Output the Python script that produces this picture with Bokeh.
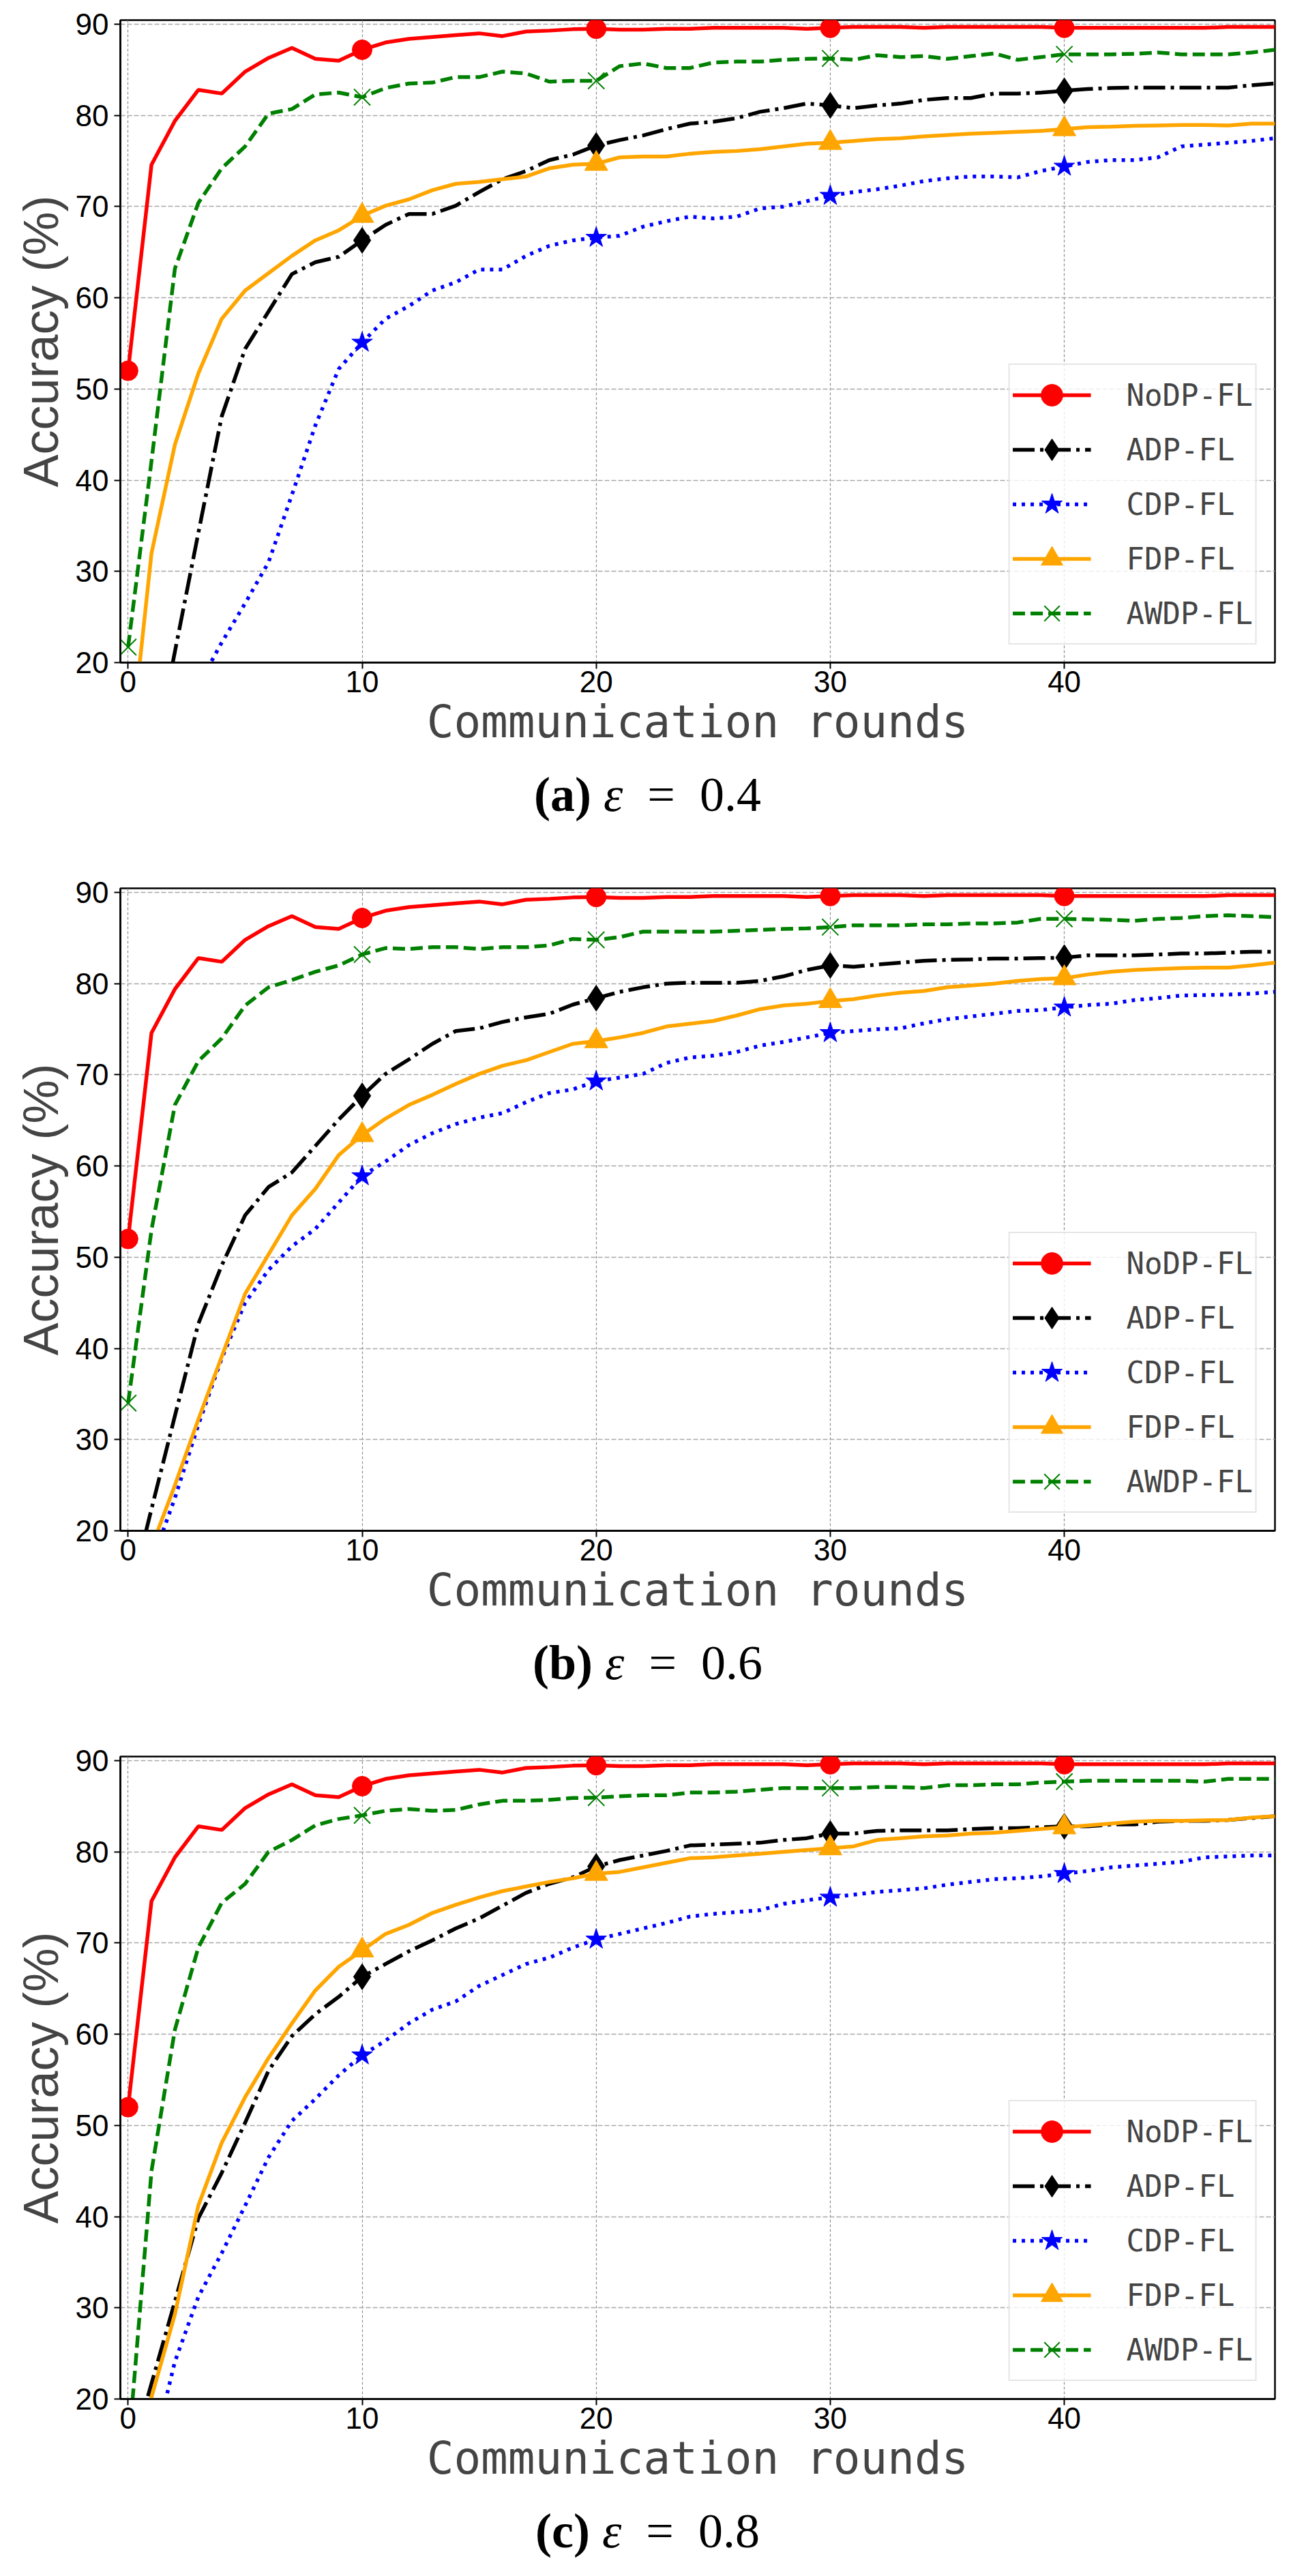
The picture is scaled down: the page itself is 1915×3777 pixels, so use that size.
from bokeh.plotting import figure
from bokeh.models import Legend, LegendItem, Div, FixedTicker
from bokeh.layouts import column
from bokeh.embed import file_html
from bokeh.resources import INLINE

# communication rounds 0..49
rounds = list(range(50))

# NoDP-FL is the same curve in all three panels
nodp = [52.0, 74.6, 79.4, 82.8, 82.4, 84.8, 86.3, 87.4, 86.2, 86.0,
        87.2, 88.0, 88.4, 88.6, 88.8, 89.0, 88.7, 89.2, 89.3, 89.45,
        89.5, 89.4, 89.4, 89.5, 89.5, 89.6, 89.6, 89.6, 89.6, 89.5,
        89.6, 89.7, 89.7, 89.7, 89.6, 89.7, 89.7, 89.7, 89.7, 89.7,
        89.6, 89.6, 89.6, 89.6, 89.6, 89.6, 89.6, 89.7, 89.7, 89.7]

# (a) eps = 0.4
adp_a = [5.0, 8.0, 21.2, 34.2, 47.0, 54.4, 58.5, 62.6, 63.9, 64.5,
         66.3, 68.0, 69.2, 69.2, 70.1, 71.6, 73.0, 73.9, 75.1, 75.7,
         76.7, 77.3, 77.8, 78.5, 79.1, 79.3, 79.7, 80.4, 80.8, 81.3,
         81.1, 80.8, 81.1, 81.3, 81.7, 81.9, 81.9, 82.4, 82.4, 82.5,
         82.7, 82.9, 83.0, 83.05, 83.05, 83.05, 83.05, 83.05, 83.3, 83.5]
cdp_a = [9.0, 11.0, 14.0, 17.5, 22.2, 26.5, 31.0, 38.4, 46.0, 52.2,
         55.1, 57.7, 59.1, 60.8, 61.7, 63.1, 63.1, 64.6, 65.7, 66.3,
         66.6, 66.8, 67.8, 68.4, 68.9, 68.7, 68.9, 69.8, 70.0, 70.6,
         71.2, 71.6, 71.9, 72.3, 72.8, 73.1, 73.3, 73.3, 73.2, 73.9,
         74.4, 74.9, 75.1, 75.1, 75.4, 76.6, 76.8, 77.0, 77.2, 77.5]
fdp_a = [8.0, 32.0, 43.9, 51.7, 57.7, 60.8, 62.7, 64.6, 66.3, 67.4,
         69.0, 70.1, 70.8, 71.8, 72.5, 72.7, 73.0, 73.3, 74.2, 74.6,
         74.7, 75.4, 75.5, 75.5, 75.8, 76.0, 76.1, 76.3, 76.6, 76.9,
         77.0, 77.2, 77.4, 77.5, 77.7, 77.85, 78.0, 78.1, 78.2, 78.3,
         78.5, 78.7, 78.76, 78.85, 78.9, 78.95, 78.95, 78.9, 79.1, 79.1]
awdp_a = [21.7, 42.1, 63.2, 70.4, 74.2, 76.6, 80.2, 80.7, 82.3, 82.5,
          82.0, 83.0, 83.5, 83.6, 84.2, 84.2, 84.8, 84.6, 83.7, 83.8,
          83.8, 85.4, 85.7, 85.2, 85.2, 85.8, 85.9, 85.9, 86.1, 86.2,
          86.25, 86.1, 86.6, 86.4, 86.5, 86.2, 86.5, 86.8, 86.1, 86.4,
          86.7, 86.7, 86.7, 86.75, 86.9, 86.7, 86.7, 86.7, 86.9, 87.2]

# (b) eps = 0.6
adp_b = [12.0, 22.4, 32.6, 42.7, 49.1, 54.6, 57.7, 59.3, 62.2, 65.1,
         67.7, 70.1, 71.7, 73.4, 74.8, 75.1, 75.8, 76.3, 76.7, 77.7,
         78.4, 79.1, 79.6, 80.0, 80.1, 80.1, 80.1, 80.3, 80.8, 81.5,
         82.0, 81.85, 82.1, 82.3, 82.5, 82.6, 82.65, 82.75, 82.75, 82.8,
         82.85, 83.1, 83.1, 83.1, 83.2, 83.3, 83.3, 83.4, 83.5, 83.5]
cdp_b = [10.0, 16.5, 23.6, 31.6, 38.9, 45.0, 48.6, 51.2, 53.1, 56.0,
         58.9, 60.5, 62.3, 63.6, 64.6, 65.3, 65.8, 67.0, 68.0, 68.4,
         69.3, 69.7, 70.1, 71.3, 71.9, 72.1, 72.5, 73.2, 73.6, 74.1,
         74.6, 74.8, 75.0, 75.1, 75.65, 76.1, 76.4, 76.7, 77.0, 77.1,
         77.4, 77.65, 77.8, 78.2, 78.4, 78.7, 78.75, 78.8, 78.9, 79.1]
fdp_b = [11.0, 18.2, 25.0, 32.2, 39.1, 46.0, 50.3, 54.6, 57.5, 61.2,
         63.4, 65.2, 66.7, 67.8, 69.0, 70.1, 71.0, 71.6, 72.5, 73.4,
         73.7, 74.1, 74.6, 75.3, 75.6, 75.9, 76.5, 77.2, 77.6, 77.8,
         78.1, 78.3, 78.7, 79.0, 79.2, 79.6, 79.8, 80.0, 80.3, 80.5,
         80.6, 81.0, 81.3, 81.5, 81.6, 81.7, 81.75, 81.75, 82.0, 82.3]
awdp_b = [34.0, 53.0, 66.7, 71.5, 74.0, 77.6, 79.6, 80.4, 81.3, 82.0,
          83.2, 83.9, 83.8, 84.0, 84.0, 83.8, 84.0, 84.0, 84.2, 84.9,
          84.8, 85.1, 85.7, 85.7, 85.7, 85.7, 85.8, 85.9, 86.0, 86.05,
          86.2, 86.4, 86.4, 86.4, 86.5, 86.5, 86.6, 86.6, 86.7, 87.1,
          87.1, 87.05, 87.0, 86.9, 87.1, 87.2, 87.4, 87.5, 87.4, 87.3]

# (c) eps = 0.8
adp_c = [12.7, 21.7, 30.7, 39.8, 44.8, 50.3, 56.0, 59.8, 62.2, 64.1,
         66.3, 67.7, 69.1, 70.3, 71.6, 72.7, 74.1, 75.5, 76.5, 77.2,
         78.4, 79.1, 79.6, 80.1, 80.7, 80.8, 80.9, 81.0, 81.3, 81.5,
         82.0, 82.0, 82.3, 82.35, 82.35, 82.35, 82.5, 82.6, 82.6, 82.7,
         82.8, 82.8, 83.0, 83.0, 83.3, 83.4, 83.4, 83.5, 83.7, 83.9]
cdp_c = [10.0, 13.5, 24.1, 31.2, 36.0, 41.2, 46.5, 50.5, 52.9, 55.5,
         57.7, 59.3, 61.2, 62.7, 63.6, 65.3, 66.5, 67.7, 68.4, 69.5,
         70.4, 71.0, 71.6, 72.2, 72.9, 73.2, 73.4, 73.6, 74.3, 74.7,
         75.0, 75.3, 75.6, 75.8, 76.0, 76.4, 76.7, 77.0, 77.1, 77.3,
         77.6, 77.9, 78.3, 78.5, 78.7, 78.9, 79.4, 79.5, 79.6, 79.6]
fdp_c = [10.0, 20.2, 29.3, 41.2, 48.1, 53.1, 57.4, 61.2, 64.8, 67.4,
         69.2, 71.0, 72.0, 73.3, 74.2, 75.0, 75.7, 76.2, 76.7, 77.1,
         77.6, 77.8, 78.3, 78.8, 79.3, 79.4, 79.6, 79.8, 80.0, 80.2,
         80.4, 80.6, 81.3, 81.5, 81.7, 81.8, 82.0, 82.1, 82.3, 82.5,
         82.7, 82.9, 83.1, 83.3, 83.4, 83.4, 83.45, 83.5, 83.75, 83.9]
awdp_c = [14.0, 45.0, 60.5, 69.5, 74.4, 76.5, 80.0, 81.3, 82.9, 83.6,
          84.0, 84.5, 84.7, 84.5, 84.6, 85.2, 85.6, 85.6, 85.7, 85.9,
          85.95, 86.1, 86.2, 86.2, 86.5, 86.5, 86.6, 86.8, 87.0, 87.0,
          87.0, 87.0, 87.1, 87.1, 87.0, 87.3, 87.3, 87.4, 87.4, 87.6,
          87.7, 87.8, 87.8, 87.8, 87.8, 87.8, 87.7, 88.0, 88.0, 88.0]

labels = ["NoDP-FL", "ADP-FL", "CDP-FL", "FDP-FL", "AWDP-FL"]
colors = ["#ff0000", "#000000", "#0000ff", "#ffa500", "#008000"]
dashes = ["solid", "32 8 5 8", "5 8", "solid", "18 8"]
markers = ["circle", "diamond", "star", "triangle", "x"]
msizes = [29, 38, 32, 34, 34]

x_ticks = [0, 10, 20, 30, 40]
y_ticks = [20, 30, 40, 50, 60, 70, 80, 90]

captions = [("(a)", "0.4"), ("(b)", "0.6"), ("(c)", "0.8")]


def make_panel(series, left):
    p = figure(width=1899, height=1131, x_range=(-0.33, 49.0), y_range=(20, 90.45),
               min_border_left=left, min_border_right=1899 - left - 1703,
               min_border_top=29, min_border_bottom=160,
               output_backend="svg", toolbar_location=None)
    p.background_fill_color = "white"
    p.outline_line_color = "black"
    p.outline_line_width = 2.5

    p.xaxis.ticker = FixedTicker(ticks=x_ticks)
    p.yaxis.ticker = FixedTicker(ticks=y_ticks)
    for ax in [p.xaxis, p.yaxis]:
        ax.axis_line_width = 2.5
        ax.major_tick_line_width = 2
        ax.major_tick_in = 0
        ax.major_tick_out = 9
        ax.minor_tick_line_color = None
        ax.major_label_text_font = "Liberation Sans"
        ax.major_label_text_font_size = "44px"
        ax.major_label_text_color = "black"
    p.xaxis.major_label_standoff = 3
    p.yaxis.major_label_standoff = 8

    p.xaxis.axis_label = "Communication rounds"
    p.xaxis.axis_label_text_font = "DejaVu Sans Mono"
    p.xaxis.axis_label_text_font_size = "66px"
    p.xaxis.axis_label_text_font_style = "normal"
    p.xaxis.axis_label_standoff = 2

    p.yaxis.axis_label = "Accuracy (%)"
    p.yaxis.axis_label_text_font = "Liberation Sans"
    p.yaxis.axis_label_text_font_size = "72px"
    p.yaxis.axis_label_text_font_style = "normal"
    p.yaxis.axis_label_standoff = 8

    p.ygrid.grid_line_color = "#a8a8a8"
    p.ygrid.grid_line_width = 1.6
    p.ygrid.grid_line_dash = "7 3"
    p.xgrid.grid_line_color = "#8c8c8c"
    p.xgrid.grid_line_width = 1.2
    p.xgrid.grid_line_dash = "4 3"

    items = []
    for vals, lab, col, dash, mk, ms in zip(series, labels, colors, dashes, markers, msizes):
        ln = p.line(rounds, vals, line_color=col, line_width=5.5, line_dash=dash)
        mr = p.scatter(rounds[::10], vals[::10], marker=mk, size=ms,
                       fill_color=col, line_color=col,
                       line_width=2 if mk == "x" else 1)
        items.append(LegendItem(label=lab, renderers=[ln, mr]))

    legend = Legend(items=items, location="bottom_right")
    legend.margin = 26
    legend.padding = 4
    legend.spacing = -10
    legend.glyph_height = 80
    legend.glyph_width = 115
    legend.label_standoff = 52
    legend.label_text_font = "DejaVu Sans Mono"
    legend.label_text_font_size = "44px"
    legend.border_line_color = "#cccccc"
    legend.border_line_width = 2
    legend.background_fill_alpha = 0.8
    p.add_layout(legend)
    return p


def make_caption(tag, eps, h):
    html = "<b>%s</b>&nbsp;<i>&epsilon;</i>&ensp;=&ensp;%s" % (tag, eps)
    return Div(text=html, width=1899, height=h, margin=(0, 0, 0, 0),
               styles={"font-family": "'Liberation Serif', serif", "font-size": "72px",
                       "line-height": "68px", "text-align": "center", "color": "black"})


panels = [
    make_panel([nodp, adp_a, cdp_a, fdp_a, awdp_a], 166),
    make_panel([nodp, adp_b, cdp_b, fdp_b, awdp_b], 176),
    make_panel([nodp, adp_c, cdp_c, fdp_c, awdp_c], 176),
]

parts = []
for i, p in enumerate(panels):
    p.margin = (0, 0, 0, 0)
    parts.append(p)
    parts.append(make_caption(captions[i][0], captions[i][1], 142 if i < 2 else 80))

layout = column(*parts, spacing=0)

open("out.html", "w").write(file_html(layout, INLINE))
